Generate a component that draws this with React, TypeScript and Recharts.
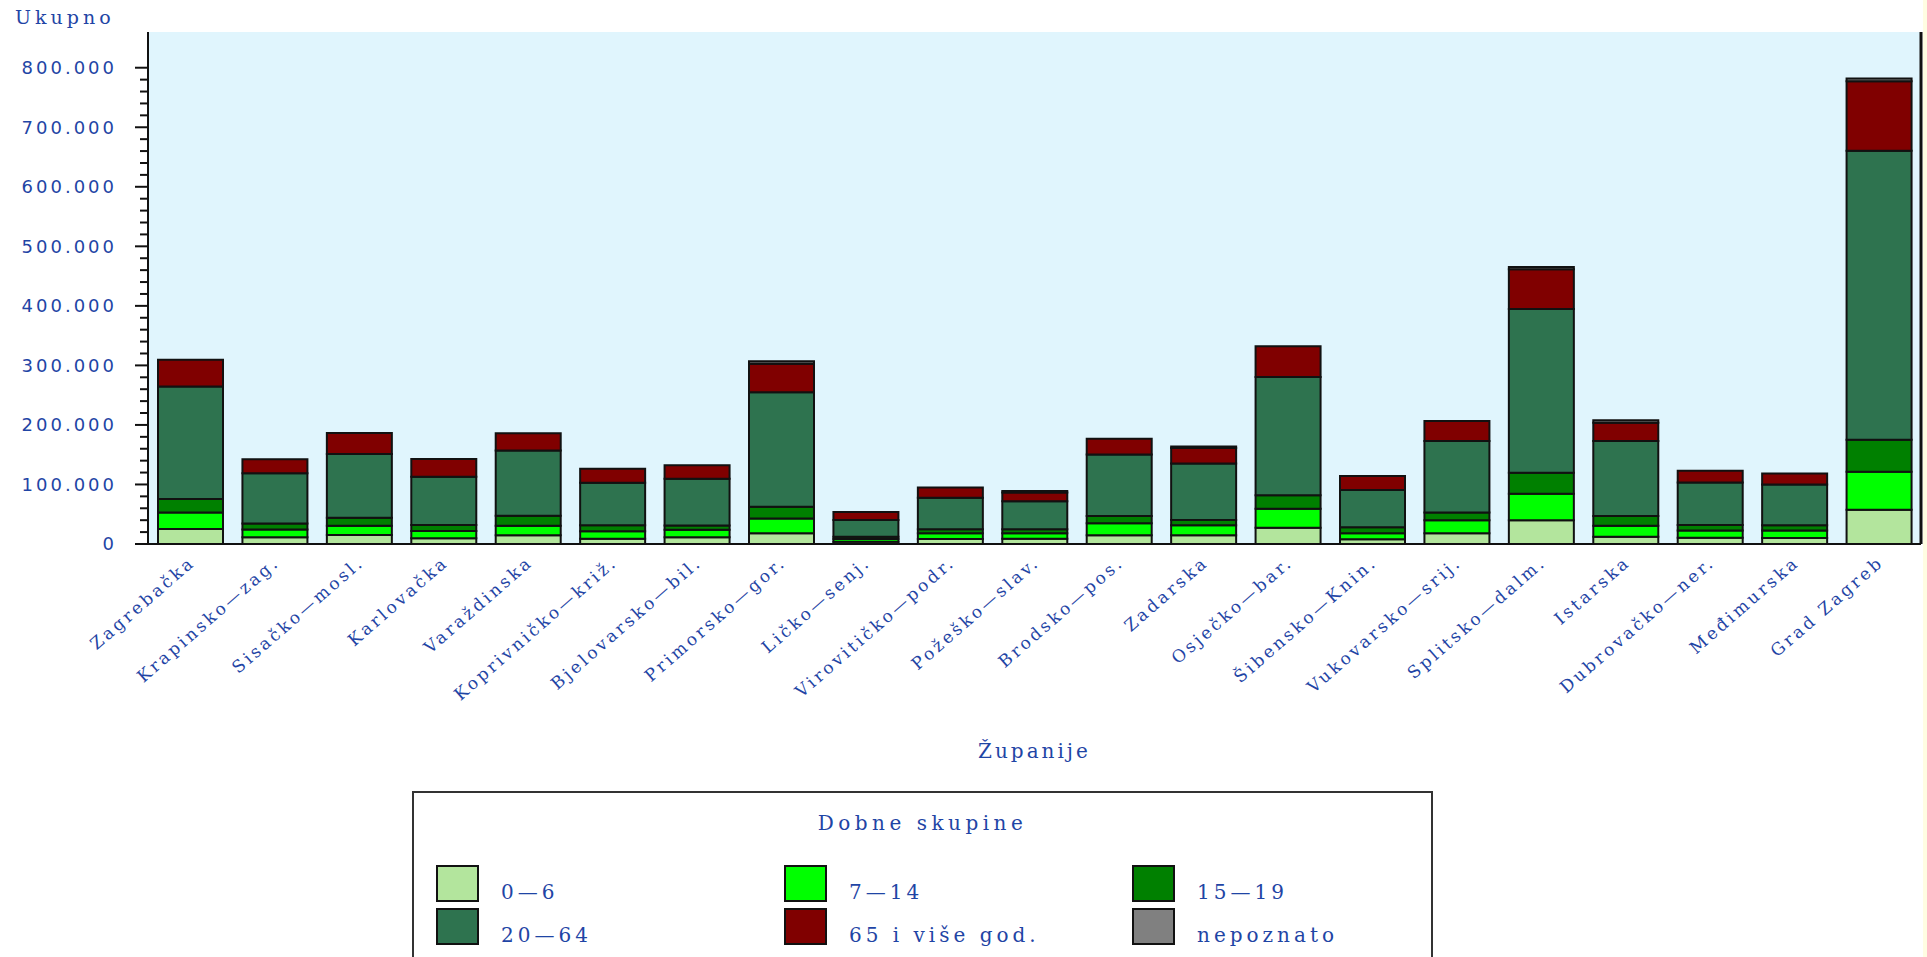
import React from 'react'
import { BarChart, Bar, XAxis, YAxis, CartesianGrid, Label } from 'recharts'

// Stanovništvo po županijama i dobnim skupinama
const counties = [
  'Zagrebačka', 'Krapinsko—zag.', 'Sisačko—mosl.', 'Karlovačka', 'Varaždinska',
  'Koprivničko—križ.', 'Bjelovarsko—bil.', 'Primorsko—gor.', 'Ličko—senj.', 'Virovitičko—podr.',
  'Požeško—slav.', 'Brodsko—pos.', 'Zadarska', 'Osječko—bar.', 'Šibensko—Knin.',
  'Vukovarsko—srij.', 'Splitsko—dalm.', 'Istarska', 'Dubrovačko—ner.', 'Međimurska', 'Grad Zagreb',
]

const age0to6 = [25000, 11500, 15000, 9500, 14500, 9000, 11500, 18000, 3600, 8500, 8900, 14500, 14500, 27400, 7800, 17900, 39700, 12300, 10500, 10000, 57600]
const age7to14 = [28000, 13000, 15700, 12500, 16300, 12400, 12300, 25000, 5000, 9500, 9000, 20200, 16800, 31900, 10100, 21800, 44800, 18500, 12000, 12500, 63700]
const age15to19 = [22500, 10000, 13400, 10000, 16700, 10000, 7300, 19500, 3700, 6700, 6700, 12300, 9000, 22400, 10100, 13400, 35200, 16200, 9500, 9000, 53700]
const age20to64 = [189000, 84500, 107000, 81000, 109700, 71600, 78300, 192400, 28000, 53000, 47000, 103400, 95000, 199000, 62600, 119700, 275000, 125800, 71500, 68500, 485400]
const age65plus = [45000, 23500, 35200, 29600, 29000, 23500, 23000, 48000, 13400, 17400, 14800, 26300, 26000, 51400, 23500, 33600, 66600, 31000, 19500, 18500, 117000]
const unknownAge = [0, 0, 0, 0, 0, 0, 0, 3900, 0, 0, 2500, 0, 2500, 0, 0, 0, 4000, 4000, 0, 0, 4500]

const majorTicks = [0, 100000, 200000, 300000, 400000, 500000, 600000, 700000, 800000]
const minorStep = 20000

const series = [
  { key: 'a0', name: '0—6', color: '#b3e59d', values: age0to6 },
  { key: 'a7', name: '7—14', color: '#00ff00', values: age7to14 },
  { key: 'a15', name: '15—19', color: '#008000', values: age15to19 },
  { key: 'a20', name: '20—64', color: '#2e734f', values: age20to64 },
  { key: 'a65', name: '65 i više god.', color: '#800000', values: age65plus },
  { key: 'nep', name: 'nepoznato', color: '#808080', values: unknownAge },
]

const rows = counties.map((name, i) => {
  const row: Record<string, string | number> = { name }
  series.forEach(s => { row[s.key] = s.values[i] })
  return row
})

const allTicks: number[] = []
for (let v = 0; v <= majorTicks[majorTicks.length - 1]; v += minorStep) allTicks.push(v)

const BLUE = '#1f45a5'
const SERIF = '"DejaVu Serif", "Liberation Serif", serif'
const SANS = '"DejaVu Sans", sans-serif'

const fmt = (n: number) => String(n).replace(/\B(?=(\d{3})+(?!\d))/g, '.')

function YTick(props: any) {
  const { x, y, payload } = props
  const major = majorTicks.includes(payload.value)
  return (
    <g>
      <line x1={x - (major ? 13 : 8)} x2={x} y1={y} y2={y} stroke="#111" strokeWidth={2} />
      {major && (
        <text x={x - 31} y={y} dy="0.36em" textAnchor="end" fill={BLUE}
          style={{ fontFamily: SANS, fontSize: 18, letterSpacing: 3 }}>
          {fmt(payload.value)}
        </text>
      )}
    </g>
  )
}

function XTick(props: any) {
  const { x, y, payload } = props
  const tx = x + 6
  const ty = y + 20
  return (
    <text x={tx} y={ty} textAnchor="end" fill={BLUE} transform={`rotate(-41 ${tx} ${ty})`}
      style={{ fontFamily: SERIF, fontSize: 17, letterSpacing: 3 }}>
      {payload.value}
    </text>
  )
}

export default function App() {
  return (
    <div style={{ position: 'absolute', left: 0, top: 0, width: 1927, height: 957, overflow: 'hidden', background: '#fff' }}>
      <div style={{ position: 'absolute', left: 15, top: 6, color: BLUE, fontFamily: SERIF, fontSize: 19, letterSpacing: 4 }}>
        Ukupno
      </div>
      <BarChart width={1927} height={957} data={rows} margin={{ top: 32, right: 0, bottom: 0, left: 0 }}>
        <CartesianGrid horizontal={false} vertical={false} fill="#e0f5fd" fillOpacity={1} />
        <XAxis dataKey="name" height={413} interval={0} tick={<XTick />} tickLine={false} tickSize={0} tickMargin={0}
          axisLine={{ stroke: '#111', strokeWidth: 2 }}>
          <Label value="Županije" position="insideTop" offset={200} fill={BLUE}
            style={{ fontFamily: SERIF, fontSize: 20, letterSpacing: 3 }} />
        </XAxis>
        <XAxis xAxisId="top" dataKey="name" orientation="top" height={0} tick={false} tickLine={false}
          axisLine={{ stroke: '#111', strokeWidth: 2 }} />
        <YAxis width={148} domain={[0, 860000]} ticks={allTicks} interval={0} tick={<YTick />}
          tickLine={false} tickSize={0} tickMargin={0} axisLine={{ stroke: '#111', strokeWidth: 2 }} />
        <YAxis yAxisId="right" orientation="right" width={6} domain={[0, 860000]} tick={false} tickLine={false}
          axisLine={{ stroke: '#111', strokeWidth: 3 }} />
        {series.map(s => (
          <Bar key={s.key} dataKey={s.key} name={s.name} stackId="pop" fill={s.color} barSize={65}
            stroke="#111" strokeWidth={2} isAnimationActive={false} />
        ))}
      </BarChart>
      <div style={{ position: 'absolute', left: 1923, top: 0, width: 4, height: 957, background: '#fffde2' }} />
      {/* Legend */}
      <div style={{ position: 'absolute', left: 412, top: 791, width: 1017, height: 200, border: '2px solid #333', background: '#fff' }}>
        <div style={{ position: 'absolute', left: 0, right: 0, top: 18, textAlign: 'center', color: BLUE, fontFamily: SERIF, fontSize: 20, letterSpacing: 4.5 }}>
          Dobne skupine
        </div>
        {series.map((s, i) => (
          <div key={s.key} style={{ position: 'absolute', left: 22 + (i % 3) * 348, top: 72 + Math.floor(i / 3) * 43, display: 'flex', alignItems: 'flex-end' }}>
            <div style={{ width: 39, height: 33, background: s.color, border: '2px solid #111' }} />
            <span style={{ marginLeft: 22, color: BLUE, fontFamily: SERIF, fontSize: 20, letterSpacing: 4, lineHeight: '20px' }}>{s.name}</span>
          </div>
        ))}
      </div>
    </div>
  )
}
